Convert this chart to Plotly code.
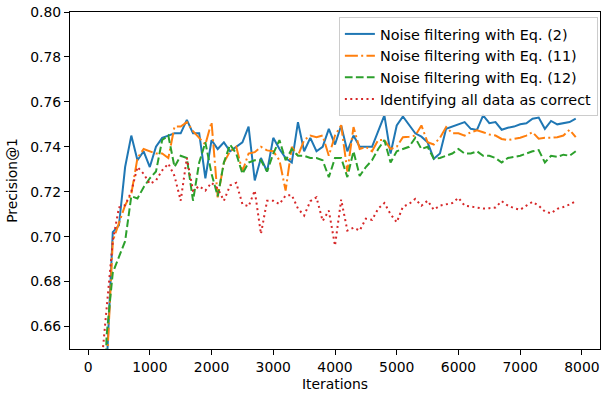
import plotly.graph_objects as go

iterations = list(range(100, 8000, 100))

eq2 = [0.52, 0.58, 0.646, 0.702, 0.705, 0.731, 0.745, 0.734, 0.738, 0.731,
       0.740, 0.744, 0.745, 0.746, 0.746, 0.752, 0.746, 0.746, 0.726, 0.743,
       0.739, 0.742, 0.738, 0.740, 0.742, 0.749, 0.725, 0.735, 0.729, 0.744,
       0.739, 0.735, 0.733, 0.751, 0.738, 0.744, 0.738, 0.740, 0.748, 0.741,
       0.7495, 0.738, 0.745, 0.740, 0.740, 0.740, 0.747, 0.754, 0.737, 0.7495,
       0.7535, 0.7495, 0.746, 0.7445, 0.742, 0.7347, 0.737, 0.748, 0.749, 0.750,
       0.751, 0.748, 0.7475, 0.754, 0.7505, 0.751, 0.7476, 0.7485, 0.749, 0.750,
       0.7505, 0.7525, 0.753, 0.748, 0.7515, 0.750, 0.7505, 0.751, 0.7525]

eq11 = [0.50, 0.57, 0.64, 0.698, 0.7065, 0.714, 0.719, 0.735, 0.739, 0.738,
        0.737, 0.737, 0.735, 0.749, 0.749, 0.751, 0.747, 0.744, 0.741, 0.751,
        0.7175, 0.733, 0.738, 0.740, 0.729, 0.737, 0.7376, 0.740, 0.7384, 0.738,
        0.734, 0.7205, 0.740, 0.736, 0.743, 0.745, 0.7443, 0.745, 0.736, 0.745,
        0.7496, 0.729, 0.7488, 0.739, 0.740, 0.738, 0.743, 0.743, 0.739, 0.740,
        0.7443, 0.7445, 0.745, 0.7495, 0.742, 0.741, 0.744, 0.7488, 0.746, 0.746,
        0.745, 0.7465, 0.7473, 0.7465, 0.7455, 0.745, 0.7435, 0.743, 0.7435, 0.744,
        0.745, 0.7465, 0.7436, 0.744, 0.744, 0.7443, 0.745, 0.7476, 0.7443]

eq12 = [0.50, 0.57, 0.656, 0.684, 0.691, 0.698, 0.718, 0.717, 0.722, 0.726,
        0.729, 0.743, 0.745, 0.731, 0.736, 0.735, 0.716, 0.733, 0.742, 0.728,
        0.718, 0.733, 0.741, 0.737, 0.728, 0.733, 0.734, 0.734, 0.729, 0.737,
        0.743, 0.734, 0.739, 0.736, 0.736, 0.735, 0.735, 0.734, 0.7265, 0.735,
        0.735, 0.7265, 0.738, 0.727, 0.731, 0.734, 0.739, 0.743, 0.733, 0.738,
        0.739, 0.740, 0.744, 0.739, 0.740, 0.7347, 0.735, 0.736, 0.737, 0.739,
        0.737, 0.737, 0.738, 0.736, 0.736, 0.735, 0.733, 0.735, 0.7355, 0.736,
        0.737, 0.738, 0.7385, 0.733, 0.736, 0.7355, 0.7365, 0.736, 0.738]

all_correct = [0.55, 0.638, 0.668, 0.698, 0.713, 0.714, 0.720, 0.731, 0.728, 0.7235,
               0.725, 0.7295, 0.7325, 0.727, 0.716, 0.735, 0.7205, 0.7225, 0.7205, 0.724,
               0.7215, 0.716, 0.7228, 0.724, 0.7145, 0.7135, 0.7205, 0.7012, 0.716, 0.716,
               0.7145, 0.7183, 0.7185, 0.7125, 0.7094, 0.7158, 0.7175, 0.707, 0.7116, 0.696,
               0.7165, 0.7027, 0.704, 0.7027, 0.708, 0.7075, 0.7125, 0.715, 0.710, 0.7064,
               0.7133, 0.7146, 0.7168, 0.7138, 0.716, 0.712, 0.7138, 0.7143, 0.715, 0.7173,
               0.7138, 0.7134, 0.713, 0.7125, 0.7127, 0.713, 0.7158, 0.7138, 0.7127, 0.712,
               0.7138, 0.7155, 0.7138, 0.7112, 0.7104, 0.7124, 0.7132, 0.7143, 0.7158]

names = ["Noise filtering with Eq. (2)", "Noise filtering with Eq. (11)",
         "Noise filtering with Eq. (12)", "Identifying all data as correct"]
x_ticks = [0, 1000, 2000, 3000, 4000, 5000, 6000, 7000, 8000]
y_ticks = [0.66, 0.68, 0.70, 0.72, 0.74, 0.76, 0.78, 0.80]

series = [eq2, eq11, eq12, all_correct]
colors = ["#1f77b4", "#ff7f0e", "#2ca02c", "#d62728"]
dashes = ["solid", "13px,3.3px,2px,3.3px", "7.7px,3.3px", "2px,3.4px"]

fig = go.Figure()
for vals, name, c, d in zip(series, names, colors, dashes):
    fig.add_trace(go.Scatter(x=iterations, y=vals, mode="lines", name=name,
                             line=dict(color=c, width=2, dash=d)))

font = "DejaVu Sans, sans-serif"
fs = 13.9
lfs = 14.4
axis_common = dict(showline=True, linecolor="black", linewidth=1.1, mirror=True,
                   ticks="outside", ticklen=5, tickwidth=1.1, tickcolor="black",
                   showgrid=False, zeroline=False, automargin=False,
                   tickfont=dict(family=font, size=fs, color="black"))
fig.update_xaxes(range=[-293, 8293], tickvals=x_ticks,
                 title=dict(text="Iterations", font=dict(family=font, size=fs, color="black"), standoff=5),
                 **axis_common)
fig.update_yaxes(range=[0.65, 0.80], tickvals=y_ticks, tickformat=".2f",
                 title=dict(text="Precision@1", font=dict(family=font, size=fs, color="black"), standoff=9),
                 **axis_common)
fig.update_layout(
    width=602, height=394,
    margin=dict(l=70, r=2, t=12, b=45),
    plot_bgcolor="white", paper_bgcolor="white",
    font=dict(family=font, size=fs, color="black"),
    legend=dict(x=0.996, y=0.985, xanchor="right", yanchor="top",
                bgcolor="rgba(255,255,255,0.8)", bordercolor="#cccccc", borderwidth=1,
                font=dict(family=font, size=lfs, color="black")),
    showlegend=True,
)
fig.write_html("out.html", config={"displayModeBar": False},
               post_script="document.body.style.margin='0';")
